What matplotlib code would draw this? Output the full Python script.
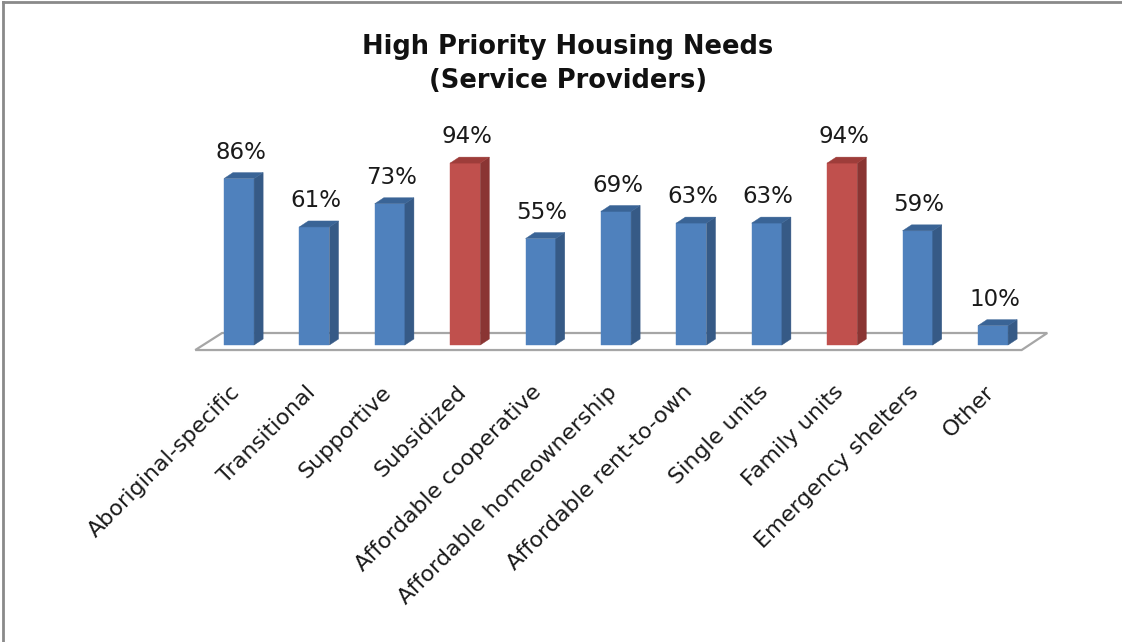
import matplotlib.pyplot as plt
from matplotlib.patches import Polygon
from matplotlib.lines import Line2D

categories = [
    "Aboriginal-specific", "Transitional", "Supportive", "Subsidized",
    "Affordable cooperative", "Affordable homeownership",
    "Affordable rent-to-own", "Single units", "Family units",
    "Emergency shelters", "Other",
]
values = [86, 61, 73, 94, 55, 69, 63, 63, 94, 59, 10]
highlight = ["Subsidized", "Family units"]

BLUE = ("#4F81BD", "#3A6496", "#365A86")   # front, top, side
RED = ("#C0504D", "#9E3D3A", "#8A3533")

W, H, DPI = 1122, 642, 100
fig = plt.figure(figsize=(W / DPI, H / DPI), dpi=DPI)
fig.patch.set_facecolor("white")

# axes placed so that category spacing / value scale match the reference
px_step = 75.4
px_per_pct = 1.935
left_px = 239 - px_step / 2
base_px = 345
ax = fig.add_axes([left_px / W, (H - base_px) / H,
                   px_step * len(categories) / W, 100 * px_per_pct / H])
ax.set_xlim(-0.5, len(categories) - 0.5)
ax.set_ylim(0, 100)
ax.axis("off")

# floor plane
floor = Polygon([(-0.58, -2.6), (10.38, -2.6), (10.72, 6.2), (-0.225, 6.2)],
                closed=True, facecolor="white", edgecolor="#A6A6A6",
                linewidth=1.6, clip_on=False, zorder=1)
ax.add_patch(floor)

half = 0.2
dx, dy = 0.12, 3.1
for i, (cat, v) in enumerate(zip(categories, values)):
    front, top, side = RED if cat in highlight else BLUE
    x0, x1 = i - half, i + half
    ax.add_patch(Polygon([(x0, 0), (x1, 0), (x1, v), (x0, v)],
                         facecolor=front, edgecolor=front, linewidth=0.3,
                         clip_on=False, zorder=3))
    ax.add_patch(Polygon([(x1, 0), (x1 + dx, dy), (x1 + dx, v + dy), (x1, v)],
                         facecolor=side, edgecolor=side, linewidth=0.3,
                         clip_on=False, zorder=3))
    ax.add_patch(Polygon([(x0, v), (x1, v), (x1 + dx, v + dy), (x0 + dx, v + dy)],
                         facecolor=top, edgecolor=top, linewidth=0.3,
                         clip_on=False, zorder=3))
    ax.text(i + 0.02, v + dy + 4.5, f"{v}%", ha="center", va="bottom",
            fontsize=16.5, color="#1a1a1a", zorder=4)
    ax.text(i - 0.12, -19, cat, ha="right", va="top", rotation=45,
            rotation_mode="anchor", fontsize=16, color="#1a1a1a", clip_on=False)

fig.text(568 / W, 1 - 64 / H, "High Priority Housing Needs\n(Service Providers)",
         ha="center", va="center", fontsize=18.5, fontweight="bold",
         linespacing=1.4, color="#111111")

# outer frame (top and left edges only, as in the reference)
fig.add_artist(Line2D([3 / W, 1], [1 - 2 / H, 1 - 2 / H], color="#8A8A8A",
                      linewidth=2, transform=fig.transFigure))
fig.add_artist(Line2D([3 / W, 3 / W], [0, 1 - 2 / H], color="#8A8A8A",
                      linewidth=2, transform=fig.transFigure))

fig.savefig("out.png", dpi=DPI)
